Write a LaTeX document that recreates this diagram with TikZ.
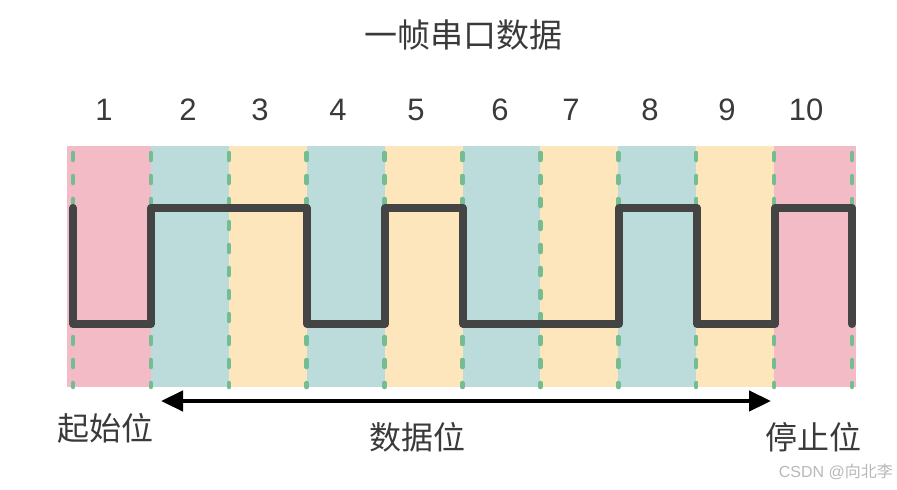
\documentclass[tikz,border=0pt]{standalone}
\usepackage{fontspec}
\setmainfont{Liberation Sans}
\newfontfamily\cjk{Noto Sans CJK SC}
\usetikzlibrary{arrows.meta}
\definecolor{pinkbg}{HTML}{F3BBC5}
\definecolor{tealbg}{HTML}{BCDCDC}
\definecolor{yellowbg}{HTML}{FDE6BB}
\definecolor{dashgreen}{HTML}{74BD92}
\definecolor{wave}{HTML}{444444}
\definecolor{txt}{HTML}{3A3A3A}
\tikzset{
  band/.style={fill=#1, draw=none},
  divider/.style={draw=dashgreen, line width=4.5pt, line cap=round, dash pattern=on 7pt off 16pt, dash phase=-3.5pt},
  signal/.style={draw=wave, line width=8pt, line cap=round, line join=round},
  bitnum/.style={text=txt, font=\fontsize{31}{31}\selectfont, inner sep=0pt},
  cjklabel/.style={text=txt, font=\cjk\fontsize{32}{32}\selectfont, inner sep=0pt},
  span/.style={draw=black, line width=4.5pt, {Triangle[length=22pt,width=20pt]}-{Triangle[length=22pt,width=20pt]}}
}
\begin{document}
\begin{tikzpicture}[x=1pt,y=-1pt]
\useasboundingbox (0,0) rectangle (897,490);
% bands
\def\bw{77.9}
\foreach \i/\c in {0/pinkbg,1/tealbg,2/yellowbg,3/tealbg,4/yellowbg,5/tealbg,6/yellowbg,7/tealbg,8/yellowbg,9/pinkbg}{
  \pgfmathsetmacro{\xa}{73+\i*\bw}
  \pgfmathsetmacro{\xb}{73+(\i+1)*\bw}
  \ifnum\i=0 \pgfmathsetmacro{\xa}{67}\fi
  \ifnum\i=9 \pgfmathsetmacro{\xb}{856}\fi
  \path[band=\c] (\xa,146) rectangle (\xb,387);
}
% dividers
\foreach \i in {0,...,10}{
  \pgfmathsetmacro{\xx}{73+\i*\bw}
  \draw[divider] (\xx,149.5) -- (\xx,387);
}
% waveform
\draw[signal] (73,208) -- (73,324) -- (151,324) -- (151,208) -- (307,208) -- (307,324)
  -- (385,324) -- (385,208) -- (463,208) -- (463,324) -- (619,324) -- (619,208)
  -- (697,208) -- (697,324) -- (775,324) -- (775,208) -- (852,208) -- (852,324);
% title
\node[cjklabel, font=\cjk\fontsize{33}{33}\selectfont] (title) at (463,35) {一帧串口数据};
% bit numbers
\node[bitnum] (n1) at (104,110) {1};
\node[bitnum] (n2) at (188,110) {2};
\node[bitnum] (n3) at (260,110) {3};
\node[bitnum] (n4) at (338,110) {4};
\node[bitnum] (n5) at (416,110) {5};
\node[bitnum] (n6) at (500,110) {6};
\node[bitnum] (n7) at (571,110) {7};
\node[bitnum] (n8) at (650,110) {8};
\node[bitnum] (n9) at (727,110) {9};
\node[bitnum] (n10) at (806,110) {10};
% bottom labels
\node[cjklabel] (start) at (105,428) {起始位};
\node[cjklabel] (data) at (417,437) {数据位};
\node[cjklabel] (stop) at (813,437) {停止位};
\coordinate (aL) at (161,401);
\coordinate (aR) at (771,401);
\draw[span] (aL) -- (aR);
% watermark
\node[text=black!28, font=\fontsize{16}{16}\selectfont, inner sep=0pt, anchor=east] (wm) at (893,472) {CSDN @{\cjk 向北李}};
\end{tikzpicture}
\end{document}
